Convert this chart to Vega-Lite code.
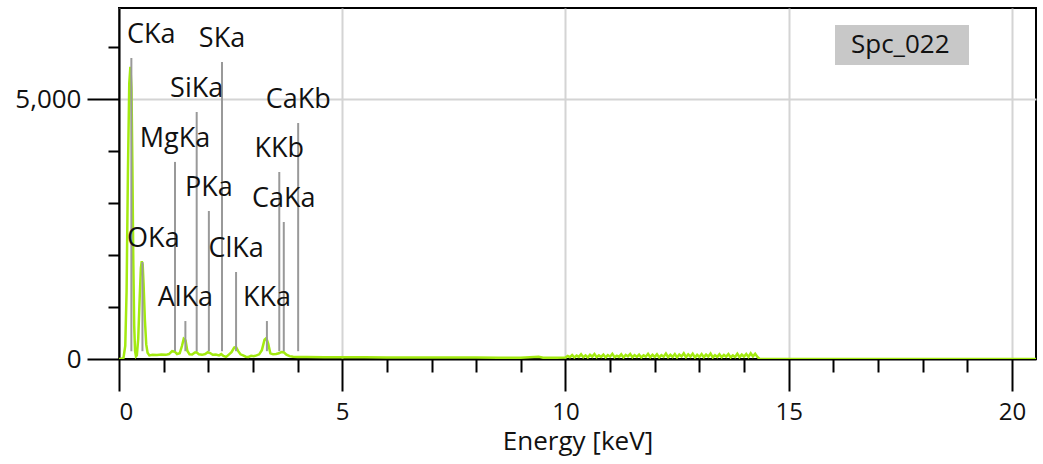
{
  "$schema": "https://vega.github.io/schema/vega-lite/v6.json",
  "width": 917,
  "height": 351,
  "autosize": "none",
  "padding": {"left": 119, "top": 8, "right": 7, "bottom": 105},
  "background": "white",
  "config": {
    "font": "Open Sans",
    "view": {"stroke": "black", "strokeWidth": 2},
    "axis": {
      "domainColor": "black",
      "domainWidth": 2,
      "tickColor": "black",
      "tickWidth": 2,
      "gridColor": "#d4d4d4",
      "gridWidth": 2,
      "labelFont": "Open Sans",
      "labelFontSize": 24,
      "labelColor": "#111111",
      "titleFont": "Open Sans",
      "titleFontSize": 26,
      "titleFontWeight": "normal",
      "titleColor": "#111111"
    }
  },
  "datasets": {
    "spectrum": [
      {"e": 0.00, "c": 0, "s": "Spc_022"}, {"e": 0.05, "c": 0, "s": "Spc_022"}, {"e": 0.10, "c": 20, "s": "Spc_022"}, {"e": 0.14, "c": 250, "s": "Spc_022"},
      {"e": 0.17, "c": 1300, "s": "Spc_022"}, {"e": 0.20, "c": 3600, "s": "Spc_022"}, {"e": 0.23, "c": 5300, "s": "Spc_022"}, {"e": 0.255, "c": 5620, "s": "Spc_022"},
      {"e": 0.28, "c": 5200, "s": "Spc_022"}, {"e": 0.30, "c": 3700, "s": "Spc_022"}, {"e": 0.32, "c": 1900, "s": "Spc_022"}, {"e": 0.34, "c": 650, "s": "Spc_022"},
      {"e": 0.36, "c": 150, "s": "Spc_022"}, {"e": 0.38, "c": 50, "s": "Spc_022"}, {"e": 0.40, "c": 70, "s": "Spc_022"}, {"e": 0.43, "c": 380, "s": "Spc_022"},
      {"e": 0.46, "c": 1100, "s": "Spc_022"}, {"e": 0.49, "c": 1750, "s": "Spc_022"}, {"e": 0.51, "c": 1880, "s": "Spc_022"}, {"e": 0.53, "c": 1820, "s": "Spc_022"},
      {"e": 0.55, "c": 1450, "s": "Spc_022"}, {"e": 0.58, "c": 750, "s": "Spc_022"}, {"e": 0.61, "c": 280, "s": "Spc_022"}, {"e": 0.64, "c": 120, "s": "Spc_022"},
      {"e": 0.68, "c": 70, "s": "Spc_022"}, {"e": 0.75, "c": 80, "s": "Spc_022"}, {"e": 0.85, "c": 75, "s": "Spc_022"}, {"e": 0.95, "c": 85, "s": "Spc_022"},
      {"e": 1.05, "c": 80, "s": "Spc_022"}, {"e": 1.12, "c": 95, "s": "Spc_022"}, {"e": 1.19, "c": 150, "s": "Spc_022"}, {"e": 1.25, "c": 140, "s": "Spc_022"},
      {"e": 1.30, "c": 95, "s": "Spc_022"}, {"e": 1.36, "c": 110, "s": "Spc_022"}, {"e": 1.41, "c": 250, "s": "Spc_022"}, {"e": 1.45, "c": 390, "s": "Spc_022"},
      {"e": 1.49, "c": 360, "s": "Spc_022"}, {"e": 1.53, "c": 160, "s": "Spc_022"}, {"e": 1.58, "c": 90, "s": "Spc_022"}, {"e": 1.64, "c": 85, "s": "Spc_022"},
      {"e": 1.70, "c": 125, "s": "Spc_022"}, {"e": 1.74, "c": 130, "s": "Spc_022"}, {"e": 1.79, "c": 90, "s": "Spc_022"}, {"e": 1.86, "c": 80, "s": "Spc_022"},
      {"e": 1.93, "c": 95, "s": "Spc_022"}, {"e": 1.99, "c": 130, "s": "Spc_022"}, {"e": 2.04, "c": 115, "s": "Spc_022"}, {"e": 2.10, "c": 80, "s": "Spc_022"},
      {"e": 2.17, "c": 85, "s": "Spc_022"}, {"e": 2.24, "c": 70, "s": "Spc_022"}, {"e": 2.29, "c": 95, "s": "Spc_022"}, {"e": 2.34, "c": 60, "s": "Spc_022"},
      {"e": 2.40, "c": 40, "s": "Spc_022"}, {"e": 2.46, "c": 85, "s": "Spc_022"}, {"e": 2.52, "c": 130, "s": "Spc_022"}, {"e": 2.58, "c": 220, "s": "Spc_022"},
      {"e": 2.62, "c": 230, "s": "Spc_022"}, {"e": 2.67, "c": 150, "s": "Spc_022"}, {"e": 2.72, "c": 90, "s": "Spc_022"}, {"e": 2.78, "c": 70, "s": "Spc_022"},
      {"e": 2.84, "c": 45, "s": "Spc_022"}, {"e": 2.90, "c": 40, "s": "Spc_022"}, {"e": 2.96, "c": 60, "s": "Spc_022"}, {"e": 3.02, "c": 55, "s": "Spc_022"},
      {"e": 3.08, "c": 70, "s": "Spc_022"}, {"e": 3.14, "c": 90, "s": "Spc_022"}, {"e": 3.20, "c": 170, "s": "Spc_022"}, {"e": 3.26, "c": 370, "s": "Spc_022"},
      {"e": 3.30, "c": 400, "s": "Spc_022"}, {"e": 3.34, "c": 300, "s": "Spc_022"}, {"e": 3.39, "c": 110, "s": "Spc_022"}, {"e": 3.45, "c": 90, "s": "Spc_022"},
      {"e": 3.52, "c": 95, "s": "Spc_022"}, {"e": 3.58, "c": 110, "s": "Spc_022"}, {"e": 3.64, "c": 135, "s": "Spc_022"}, {"e": 3.69, "c": 130, "s": "Spc_022"},
      {"e": 3.75, "c": 85, "s": "Spc_022"}, {"e": 3.82, "c": 55, "s": "Spc_022"}, {"e": 3.90, "c": 45, "s": "Spc_022"}, {"e": 4.00, "c": 40, "s": "Spc_022"},
      {"e": 4.20, "c": 38, "s": "Spc_022"}, {"e": 4.60, "c": 35, "s": "Spc_022"}, {"e": 5.00, "c": 33, "s": "Spc_022"}, {"e": 5.50, "c": 32, "s": "Spc_022"},
      {"e": 6.00, "c": 30, "s": "Spc_022"}, {"e": 6.50, "c": 30, "s": "Spc_022"}, {"e": 7.00, "c": 28, "s": "Spc_022"}, {"e": 7.50, "c": 28, "s": "Spc_022"},
      {"e": 8.00, "c": 27, "s": "Spc_022"}, {"e": 8.50, "c": 26, "s": "Spc_022"}, {"e": 9.00, "c": 26, "s": "Spc_022"}, {"e": 9.40, "c": 45, "s": "Spc_022"},
      {"e": 9.50, "c": 25, "s": "Spc_022"}, {"e": 9.80, "c": 26, "s": "Spc_022"}, {"e": 10.00, "c": 30, "s": "Spc_022"}, {"e": 10.05, "c": 60, "s": "Spc_022"},
      {"e": 10.10, "c": 35, "s": "Spc_022"}, {"e": 10.15, "c": 75, "s": "Spc_022"}, {"e": 10.20, "c": 30, "s": "Spc_022"}, {"e": 10.25, "c": 65, "s": "Spc_022"},
      {"e": 10.30, "c": 40, "s": "Spc_022"}, {"e": 10.35, "c": 90, "s": "Spc_022"}, {"e": 10.40, "c": 35, "s": "Spc_022"}, {"e": 10.45, "c": 70, "s": "Spc_022"},
      {"e": 10.50, "c": 30, "s": "Spc_022"}, {"e": 10.55, "c": 80, "s": "Spc_022"}, {"e": 10.60, "c": 45, "s": "Spc_022"}, {"e": 10.65, "c": 95, "s": "Spc_022"},
      {"e": 10.70, "c": 35, "s": "Spc_022"}, {"e": 10.75, "c": 70, "s": "Spc_022"}, {"e": 10.80, "c": 40, "s": "Spc_022"}, {"e": 10.85, "c": 85, "s": "Spc_022"},
      {"e": 10.90, "c": 30, "s": "Spc_022"}, {"e": 10.95, "c": 75, "s": "Spc_022"}, {"e": 11.00, "c": 45, "s": "Spc_022"}, {"e": 11.05, "c": 100, "s": "Spc_022"},
      {"e": 11.10, "c": 35, "s": "Spc_022"}, {"e": 11.15, "c": 65, "s": "Spc_022"}, {"e": 11.20, "c": 40, "s": "Spc_022"}, {"e": 11.25, "c": 90, "s": "Spc_022"},
      {"e": 11.30, "c": 30, "s": "Spc_022"}, {"e": 11.35, "c": 80, "s": "Spc_022"}, {"e": 11.40, "c": 50, "s": "Spc_022"}, {"e": 11.45, "c": 95, "s": "Spc_022"},
      {"e": 11.50, "c": 35, "s": "Spc_022"}, {"e": 11.55, "c": 75, "s": "Spc_022"}, {"e": 11.60, "c": 40, "s": "Spc_022"}, {"e": 11.65, "c": 85, "s": "Spc_022"},
      {"e": 11.70, "c": 30, "s": "Spc_022"}, {"e": 11.75, "c": 70, "s": "Spc_022"}, {"e": 11.80, "c": 45, "s": "Spc_022"}, {"e": 11.85, "c": 100, "s": "Spc_022"},
      {"e": 11.90, "c": 35, "s": "Spc_022"}, {"e": 11.95, "c": 80, "s": "Spc_022"}, {"e": 12.00, "c": 40, "s": "Spc_022"}, {"e": 12.05, "c": 90, "s": "Spc_022"},
      {"e": 12.10, "c": 30, "s": "Spc_022"}, {"e": 12.15, "c": 75, "s": "Spc_022"}, {"e": 12.20, "c": 45, "s": "Spc_022"}, {"e": 12.25, "c": 105, "s": "Spc_022"},
      {"e": 12.30, "c": 35, "s": "Spc_022"}, {"e": 12.35, "c": 80, "s": "Spc_022"}, {"e": 12.40, "c": 40, "s": "Spc_022"}, {"e": 12.45, "c": 95, "s": "Spc_022"},
      {"e": 12.50, "c": 30, "s": "Spc_022"}, {"e": 12.55, "c": 85, "s": "Spc_022"}, {"e": 12.60, "c": 50, "s": "Spc_022"}, {"e": 12.65, "c": 110, "s": "Spc_022"},
      {"e": 12.70, "c": 35, "s": "Spc_022"}, {"e": 12.75, "c": 90, "s": "Spc_022"}, {"e": 12.80, "c": 45, "s": "Spc_022"}, {"e": 12.85, "c": 100, "s": "Spc_022"},
      {"e": 12.90, "c": 30, "s": "Spc_022"}, {"e": 12.95, "c": 80, "s": "Spc_022"}, {"e": 13.00, "c": 40, "s": "Spc_022"}, {"e": 13.05, "c": 95, "s": "Spc_022"},
      {"e": 13.10, "c": 35, "s": "Spc_022"}, {"e": 13.15, "c": 85, "s": "Spc_022"}, {"e": 13.20, "c": 45, "s": "Spc_022"}, {"e": 13.25, "c": 105, "s": "Spc_022"},
      {"e": 13.30, "c": 30, "s": "Spc_022"}, {"e": 13.35, "c": 75, "s": "Spc_022"}, {"e": 13.40, "c": 40, "s": "Spc_022"}, {"e": 13.45, "c": 90, "s": "Spc_022"},
      {"e": 13.50, "c": 35, "s": "Spc_022"}, {"e": 13.55, "c": 80, "s": "Spc_022"}, {"e": 13.60, "c": 45, "s": "Spc_022"}, {"e": 13.65, "c": 95, "s": "Spc_022"},
      {"e": 13.70, "c": 30, "s": "Spc_022"}, {"e": 13.75, "c": 70, "s": "Spc_022"}, {"e": 13.80, "c": 40, "s": "Spc_022"}, {"e": 13.85, "c": 100, "s": "Spc_022"},
      {"e": 13.90, "c": 35, "s": "Spc_022"}, {"e": 13.95, "c": 85, "s": "Spc_022"}, {"e": 14.00, "c": 45, "s": "Spc_022"}, {"e": 14.05, "c": 95, "s": "Spc_022"},
      {"e": 14.10, "c": 40, "s": "Spc_022"}, {"e": 14.15, "c": 110, "s": "Spc_022"}, {"e": 14.20, "c": 50, "s": "Spc_022"}, {"e": 14.25, "c": 100, "s": "Spc_022"},
      {"e": 14.30, "c": 40, "s": "Spc_022"}, {"e": 14.35, "c": 0, "s": "Spc_022"}, {"e": 20.54, "c": 0, "s": "Spc_022"}
    ],
    "peaks": [
      {"label": "CKa", "keV": 0.277, "top": 5790, "base": 150, "labelKeV": 0.72},
      {"label": "OKa", "keV": 0.525, "top": 1865, "base": 150, "labelKeV": 0.77},
      {"label": "MgKa", "keV": 1.254, "top": 3790, "base": 150, "labelKeV": 1.254},
      {"label": "AlKa", "keV": 1.487, "top": 730, "base": 150, "labelKeV": 1.487},
      {"label": "SiKa", "keV": 1.740, "top": 4750, "base": 150, "labelKeV": 1.740},
      {"label": "PKa", "keV": 2.013, "top": 2846, "base": 150, "labelKeV": 2.013},
      {"label": "SKa", "keV": 2.307, "top": 5712, "base": 150, "labelKeV": 2.307},
      {"label": "ClKa", "keV": 2.622, "top": 1673, "base": 150, "labelKeV": 2.622},
      {"label": "KKa", "keV": 3.313, "top": 730, "base": 150, "labelKeV": 3.313},
      {"label": "KKb", "keV": 3.590, "top": 3596, "base": 150, "labelKeV": 3.590},
      {"label": "CaKa", "keV": 3.691, "top": 2635, "base": 150, "labelKeV": 3.691},
      {"label": "CaKb", "keV": 4.013, "top": 4538, "base": 150, "labelKeV": 4.013}
    ]
  },
  "layer": [
    {
      "data": {"name": "spectrum"},
      "mark": {"type": "line", "strokeWidth": 2.5, "clip": true},
      "encoding": {
        "x": {
          "field": "e",
          "type": "quantitative",
          "scale": {"domain": [0, 20.54], "nice": false, "zero": false},
          "axis": {
            "title": "Energy [keV]",
            "titleBaseline": "alphabetic",
            "titleY": 90,
            "values": [0,1,2,3,4,5,6,7,8,9,10,11,12,13,14,15,16,17,18,19,20],
            "labelExpr": "datum.value % 5 === 0 ? format(datum.value, 'd') : ''",
            "tickSize": {"condition": {"test": "datum.value % 5 === 0", "value": 32}, "value": 13},
            "labelPadding": 9,
            "gridOpacity": {"condition": {"test": "datum.value % 5 === 0", "value": 1}, "value": 0}
          }
        },
        "y": {
          "field": "c",
          "type": "quantitative",
          "scale": {"domain": [0, 6750], "nice": false},
          "axis": {
            "title": null,
            "values": [0,1000,2000,3000,4000,5000,6000],
            "labelExpr": "datum.value === 0 || datum.value === 5000 ? format(datum.value, ',') : ''",
            "tickSize": {"condition": {"test": "datum.value === 0 || datum.value === 5000", "value": 32}, "value": 11},
            "labelPadding": 6,
            "labelFontSize": 26,
            "gridOpacity": {"condition": {"test": "datum.value === 5000", "value": 1}, "value": 0}
          }
        },
        "color": {
          "field": "s",
          "type": "nominal",
          "scale": {"range": ["#a3ea10"]},
          "legend": {
            "title": " ",
            "titleOrient": "right",
            "titlePadding": 12,
            "titleFontSize": 26,
            "orient": "none",
            "legendX": 716,
            "legendY": 17,
            "fillColor": "#c8c8c8",
            "padding": 7,
            "symbolOpacity": 0,
            "symbolSize": 1,
            "symbolStrokeWidth": 0,
            "labelOffset": -17,
            "labelFont": "Open Sans",
            "labelFontSize": 26,
            "labelColor": "#111111"
          }
        }
      }
    },
    {
      "data": {"name": "peaks"},
      "mark": {"type": "rule", "color": "#999999", "strokeWidth": 2},
      "encoding": {
        "x": {"field": "keV", "type": "quantitative"},
        "y": {"field": "base", "type": "quantitative"},
        "y2": {"field": "top"}
      }
    },
    {
      "data": {"name": "peaks"},
      "mark": {"type": "text", "font": "Open Sans", "fontSize": 27, "color": "#111111", "baseline": "alphabetic", "align": "center", "dy": -15},
      "encoding": {
        "x": {"field": "labelKeV", "type": "quantitative"},
        "y": {"field": "top", "type": "quantitative"},
        "text": {"field": "label"}
      }
    }
  ]
}
